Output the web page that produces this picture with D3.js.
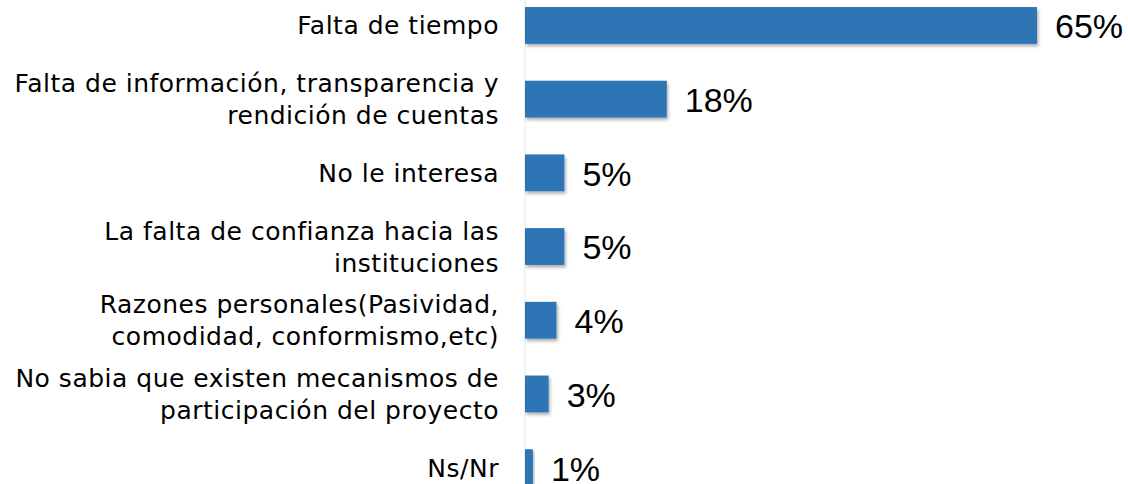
<!DOCTYPE html>
<html>
<head>
<meta charset="utf-8">
<script src="https://cdn.jsdelivr.net/npm/d3@7"></script>
<style>
  body { margin: 0; background: #fff; }
  svg { display: block; }
</style>
</head>
<body>
<div id="chart"></div>
<script>
// categories, one entry per bar ("\n" marks the line break used in the original)
const categories = [
    "Falta de tiempo",
    "Falta de información, transparencia y\nrendición de cuentas",
    "No le interesa",
    "La falta de confianza hacia las\ninstituciones",
    "Razones personales(Pasividad,\ncomodidad, conformismo,etc)",
    "No sabia que existen mecanismos de\nparticipación del proyecto",
    "Ns/Nr"
];
const values = [65, 18, 5, 5, 4, 3, 1];
const valueLabels = ["65%", "18%", "5%", "5%", "4%", "3%", "1%"];

const width = 1128, height = 484;
const axisX = 525;
const labelFont = "'Century Gothic', 'DejaVu Sans', sans-serif";
const valueFont = "'Century Gothic', 'Liberation Sans', sans-serif";

let svg = d3.select("#chart")
    .append("svg")
    .attr("width", width)
    .attr("height", height);

let defs = svg.append("defs");
let shadow = defs.append("filter")
    .attr("id", "shadow")
    .attr("x", "-5%").attr("y", "-20%")
    .attr("width", "120%").attr("height", "160%");
shadow.append("feDropShadow")
    .attr("dx", 1.5).attr("dy", 2.5)
    .attr("stdDeviation", 1.5)
    .attr("flood-color", "#000")
    .attr("flood-opacity", 0.3);

let x = d3.scaleLinear()
    .domain([0, 65])
    .range([axisX, 1037]);

let y = d3.scaleBand()
    .domain(categories)
    .range([-11.4, 504.5])
    .paddingInner(0.5)
    .paddingOuter(0.25);

// axis line
svg.append("line")
    .attr("x1", axisX).attr("x2", axisX)
    .attr("y1", 0).attr("y2", height)
    .attr("stroke", "#e6e6e6")
    .attr("stroke-width", 1);

svg.append("g")
    .selectAll("rect")
    .data(values)
    .enter()
    .append("rect")
    .attr("x", x(0))
    .attr("y", (d, i) => y(categories[i]))
    .attr("width", d => x(d) - x(0))
    .attr("height", y.bandwidth())
    .attr("fill", "#2E75B6")
    .attr("filter", "url(#shadow)");

// value labels
svg.append("g")
    .selectAll("text")
    .data(values)
    .enter()
    .append("text")
    .attr("x", d => x(d) + 18)
    .attr("y", (d, i) => y(categories[i]) + y.bandwidth() / 2)
    .attr("dy", "0.38em")
    .style("font-family", valueFont)
    .style("font-size", "34px")
    .style("fill", "#000")
    .text((d, i) => valueLabels[i]);

// category labels
let labels = svg.append("g")
    .selectAll("text")
    .data(categories)
    .enter()
    .append("text")
    .attr("text-anchor", "end")
    .style("font-family", labelFont)
    .style("font-size", "25px")
    .style("letter-spacing", "0.5px")
    .style("fill", "#000");

labels.each(function(d) {
    let lines = d.split("\n");
    let cy = y(d) + y.bandwidth() / 2;
    let lh = 32;
    let start = cy - (lines.length - 1) * lh / 2;
    let t = d3.select(this);
    lines.forEach((line, j) => {
        t.append("tspan")
            .attr("x", 499)
            .attr("y", start + j * lh)
            .attr("dy", "0.36em")
            .text(line);
    });
});
</script>
</body>
</html>
